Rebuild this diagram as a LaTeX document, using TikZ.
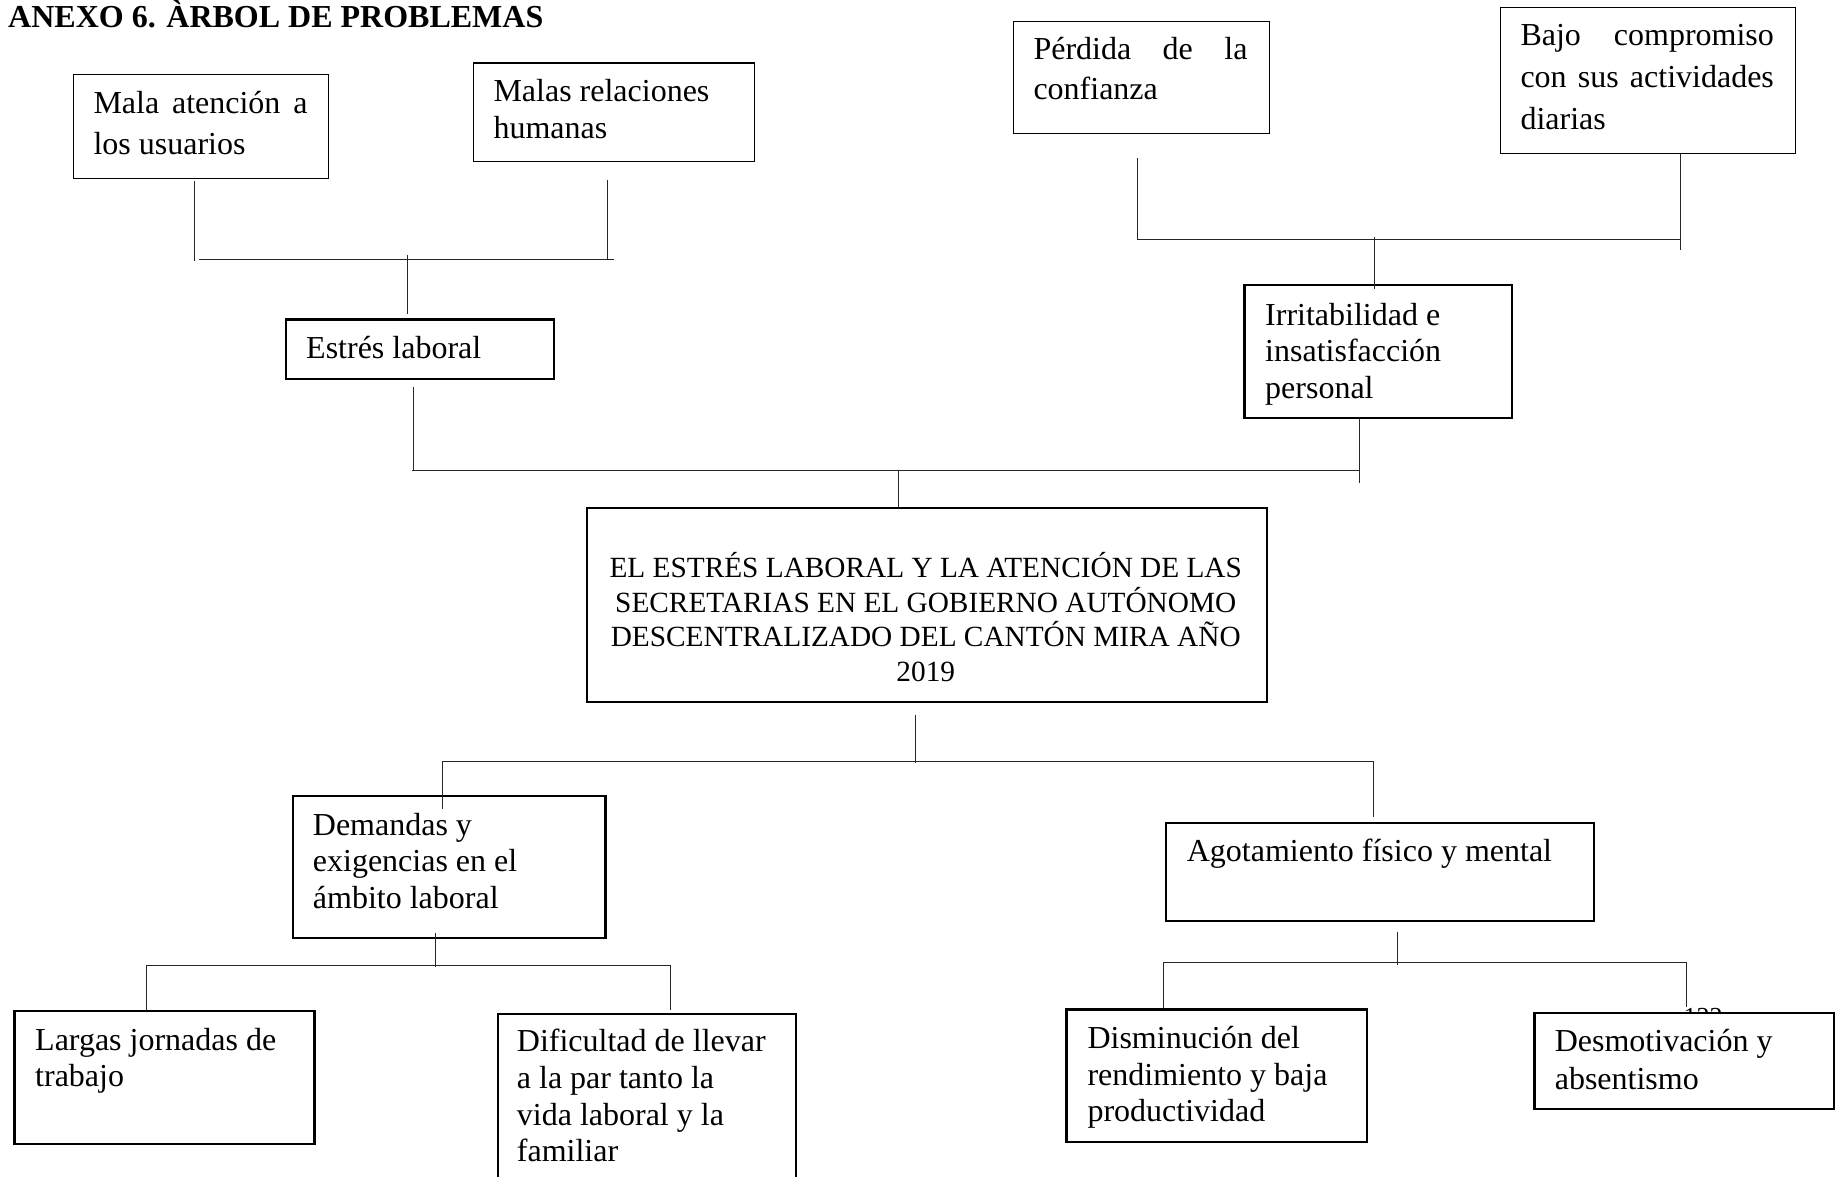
\documentclass[tikz,border=0pt]{standalone}
\usepackage{fontspec}
\setmainfont{Liberation Serif}
\newcommand\mylines[2]{\vtop{\baselineskip=#1pt\lineskip=0pt\lineskiplimit=-1000pt\relax #2}}
\begin{document}
\begin{tikzpicture}[x=1pt,y=-1pt,
  bxthin/.style={draw=black, line width=1.1pt, inner sep=0pt, anchor=north west},
  bxthick/.style={draw=black, line width=2.2pt, inner sep=0pt, anchor=north west},
  txt/.style={inner sep=0pt, anchor=base west, font=\fontsize{32}{36}\selectfont},
  conn/.style={draw=black!85, line width=1pt}]
\useasboundingbox (0,0) rectangle (1838,1177);
\fill[white] (0,0) rectangle (1838,1177);
\clip (0,0) rectangle (1838,1177);

% title
\node[txt, font=\fontsize{32}{36}\selectfont\bfseries] (title) at (8,28) {ANEXO 6. ÀRBOL DE PROBLEMAS};

% boxes
\node[bxthin, minimum width=255pt, minimum height=103.4pt] (mala) at (73.3,74.3) {};
\node[bxthin, minimum width=280.7pt, minimum height=98.2pt] (malas) at (473.3,62.5) {};
\node[bxthin, minimum width=255.4pt, minimum height=112pt] (perdida) at (1013.3,20.7) {};
\node[bxthin, minimum width=295.6pt, minimum height=146pt] (bajo) at (1499.7,6.7) {};
\node[bxthick, minimum width=267.7pt, minimum height=59.4pt] (estres) at (285,318.3) {};
\node[bxthick, minimum width=267.4pt, minimum height=132.7pt] (irrit) at (1243.3,284) {};
\node[bxthick, minimum width=680.5pt, minimum height=194.3pt] (main) at (585.5,506.7) {};
\node[bxthick, minimum width=312.6pt, minimum height=141.7pt] (dem) at (291.7,795) {};
\node[bxthick, minimum width=428.5pt, minimum height=98.5pt] (agot) at (1164.5,821.5) {};
\node[bxthick, minimum width=300pt, minimum height=132.7pt] (largas) at (13.3,1010) {};
\node[bxthick, minimum width=298.3pt, minimum height=200pt] (dific) at (496.7,1012.8) {};
\node[bxthick, minimum width=300.5pt, minimum height=132.2pt] (dism) at (1065.4,1008.3) {};
\begin{scope}
  \clip (1675,995) rectangle (1735,1011.7);
  \node[inner sep=0pt, anchor=base, font=\fontsize{26}{30}\selectfont] (pg) at (1703,1025) {122};
\end{scope}
\node[bxthick, fill=white, minimum width=299.2pt, minimum height=96pt] (desm) at (1533.3,1011.7) {};

% texts
\node[txt] (tmala) at (93.3,114) {\mylines{41}{\hbox to 214pt{Mala\hfill atención\hfill a}\hbox{los usuarios}}};
\node[txt] (tmalas) at (493.3,101.7) {\mylines{36.6}{\hbox{Malas relaciones}\hbox{humanas}}};
\node[txt] (tperdida) at (1033.3,60) {\mylines{40}{\hbox to 214pt{Pérdida\hfill de\hfill la}\hbox{confianza}}};
\node[txt] (tbajo) at (1520.3,45.7) {\mylines{41.8}{\hbox to 253.4pt{Bajo\hfill compromiso}\hbox to 253.4pt{con\hfill sus\hfill actividades}\hbox{diarias}}};
\node[txt] (testres) at (306,358.3) {Estrés laboral};
\node[txt] (tirrit) at (1265,325) {\mylines{36.7}{\hbox{Irritabilidad e}\hbox{insatisfacción}\hbox{personal}}};
\node[txt, anchor=base, font=\fontsize{29.3}{34}\selectfont] (tmain) at (925.75,577.3) {\mylines{34.8}{%
  \hbox to 0pt{\hss EL ESTRÉS LABORAL Y LA ATENCIÓN DE LAS\hss}%
  \hbox to 0pt{\hss SECRETARIAS EN EL GOBIERNO AUTÓNOMO\hss}%
  \hbox to 0pt{\hss DESCENTRALIZADO DEL CANTÓN MIRA AÑO\hss}%
  \hbox to 0pt{\hss 2019\hss}}};
\node[txt] (tdem) at (312.7,835) {\mylines{36.7}{\hbox{Demandas y}\hbox{exigencias en el}\hbox{ámbito laboral}}};
\node[txt] (tagot) at (1186.6,861.7) {Agotamiento físico y mental};
\node[txt] (tlargas) at (35,1050) {\mylines{36.7}{\hbox{Largas jornadas de}\hbox{trabajo}}};
\node[txt] (tdific) at (516.7,1051.7) {\mylines{36.7}{\hbox{Dificultad de llevar}\hbox{a la par tanto la}\hbox{vida laboral y la}\hbox{familiar}}};
\node[txt] (tdism) at (1087.3,1048.3) {\mylines{36.7}{\hbox{Disminución del}\hbox{rendimiento y baja}\hbox{productividad}}};
\node[txt] (tdesm) at (1554.6,1051.7) {\mylines{37.6}{\hbox{Desmotivación y}\hbox{absentismo}}};

% bus coordinates
\coordinate (aL) at (199.3,259);  \coordinate (aR) at (614,259);
\coordinate (bL) at (1137.3,239.3); \coordinate (bR) at (1679.7,239.3);
\coordinate (cL) at (411.7,470);  \coordinate (cR) at (1360,470);
\coordinate (dL) at (442.3,761);  \coordinate (dR) at (1373.8,761);
\coordinate (eL) at (146.7,965);  \coordinate (eR) at (670.5,965);
\coordinate (fL) at (1163.2,962.7); \coordinate (fR) at (1686.7,962.7);

% top-left group
\draw[conn] (mala.south) ++(-6.5,2.3) -- ++(0,80);
\draw[conn] (malas.south) ++(-7,18.6) -- ++(0,79.7);
\draw[conn] (aL) -- (aR);
\draw[conn] (estres.north) ++(-12.2,-63.3) -- ++(0,59.3);

% top-right group
\draw[conn] (perdida.south) ++(-3.7,24) -- ++(0,82.6);
\draw[conn] (bajo.south) ++(32.2,0) -- ++(0,96.6);
\draw[conn] (bL) -- (bR);
\draw[conn] (irrit.north) ++(-3.7,-47.3) -- ++(0,52.6);

% middle bus
\draw[conn] (estres.south) ++(-6.2,7.3) -- ++(0,83);
\draw[conn] (irrit.south) ++(-18.5,0) -- ++(0,64.3);
\draw[conn] (cL) -- (cR);
\draw[conn] (main.north) ++(-28.2,-36.7) -- ++(0,36.7);

% lower bus
\draw[conn] (main.south) ++(-11.75,11.7) -- ++(0,48.3);
\draw[conn] (dL) -- (dR);
\draw[conn] (dL) -- ++(0,48.3);
\draw[conn] (dR) -- ++(0,56.3);

% demandas children
\draw[conn] (dem.south) ++(-13.7,-6) -- ++(0,34.3);
\draw[conn] (eL) -- (eR);
\draw[conn] (eL) -- (largas.north -| eL);
\draw[conn] (eR) -- ++(0,45);

% agotamiento children
\draw[conn] (agot.south) ++(17.75,9.3) -- ++(0,33.4);
\draw[conn] (fL) -- (fR);
\draw[conn] (fL) -- (dism.north -| fL);
\draw[conn] (fR) -- ++(0,44);
\end{tikzpicture}
\end{document}
